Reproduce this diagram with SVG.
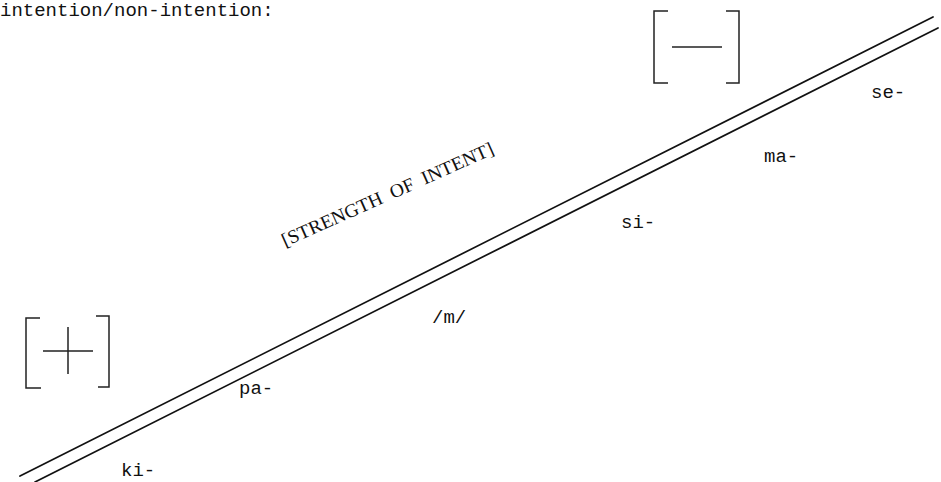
<svg xmlns="http://www.w3.org/2000/svg" width="941" height="482" viewBox="0 0 941 482">
<style>
.t{font-family:"Liberation Mono","DejaVu Sans Mono",monospace;fill:#111;}
.s{font-family:"Liberation Serif","DejaVu Serif",serif;fill:#111;}
.ln{stroke:#111;stroke-width:1.7;fill:none;stroke-linecap:round;}
.br{stroke:#222;stroke-width:1.5;fill:none;}
</style>
<rect width="941" height="482" fill="#fff"/>
<text class="t" x="0" y="16" font-size="19">intention/non-intention:</text>
<g id="connectors">
<line class="ln" x1="20" y1="476" x2="933" y2="17"/>
<line class="ln" x1="35" y1="482" x2="938" y2="28"/>
</g>
<g id="plus">
<path class="br" d="M40,318 H26 V388 H41 M96,316 H109 V387 H98"/>
<path class="br" d="M43,351 H93 M68,327 V374"/>
</g>
<g id="minus">
<path class="br" d="M668,11 H654 V83 H668 M726,11 H739 V83 H726"/>
<path class="br" d="M672,47 H722"/>
</g>
<g id="strength">
<text class="s" x="285" y="247" font-size="19" textLength="230" lengthAdjust="spacingAndGlyphs" transform="rotate(-24 285 247)" xml:space="preserve">[STRENGTH  OF  INTENT]</text>
</g>
<g id="labels" class="t" font-size="19">
<text id="ki" x="121" y="476">ki-</text>
<text id="pa" x="239" y="394">pa-</text>
<text id="m" x="432" y="323">/m/</text>
<text id="si" x="621" y="228">si-</text>
<text id="ma" x="764" y="162">ma-</text>
<text id="se" x="871" y="98">se-</text>
</g>
</svg>
